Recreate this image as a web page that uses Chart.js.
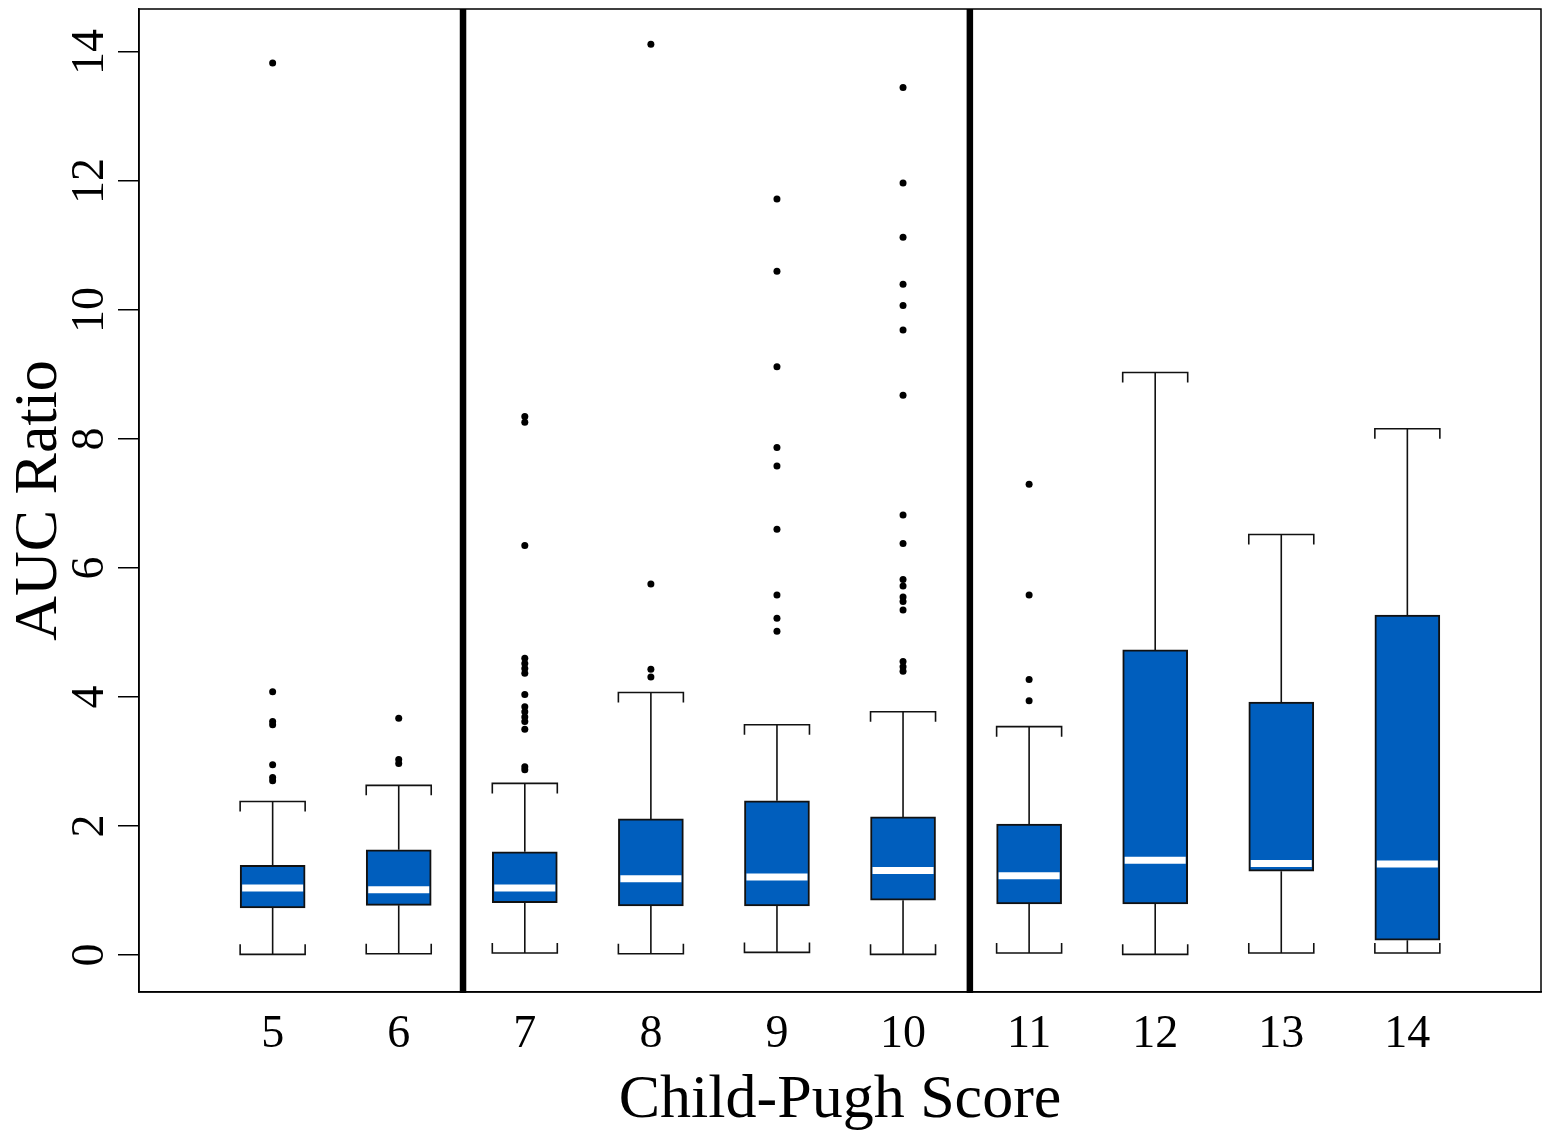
<!DOCTYPE html>
<html>
<head>
<meta charset="utf-8">
<title>AUC Ratio by Child-Pugh Score</title>
<script src="https://cdn.jsdelivr.net/npm/chart.js@4.4.1/dist/chart.umd.min.js"></script>
<style>
  html, body { margin: 0; padding: 0; background: #fff; }
  #wrap { width: 1545px; height: 1135px; }
</style>
</head>
<body>
<div id="wrap"><canvas id="boxChart" width="1545" height="1135"></canvas></div>
<script>
// data
const scores = [5, 6, 7, 8, 9, 10, 11, 12, 13, 14];
const whiskerLow  = [0.01, 0.02, 0.03, 0.02, 0.04, 0.01, 0.03, 0.01, 0.03, 0.03];
const q1          = [0.73, 0.77, 0.81, 0.76, 0.76, 0.85, 0.79, 0.79, 1.30, 0.23];
const median      = [1.04, 1.01, 1.04, 1.18, 1.21, 1.31, 1.23, 1.47, 1.42, 1.41];
const q3          = [1.39, 1.63, 1.60, 2.11, 2.39, 2.14, 2.03, 4.73, 3.92, 5.27];
const whiskerHigh = [2.38, 2.63, 2.66, 4.07, 3.57, 3.77, 3.54, 9.03, 6.52, 8.16];
const outliers = [
  [2.70, 2.75, 2.95, 3.57, 3.62, 4.08, 13.83],
  [2.97, 3.03, 3.67],
  [2.87, 2.92, 3.50, 3.62, 3.69, 3.77, 3.85, 4.04, 4.37, 4.44, 4.52, 4.60, 6.35, 8.26, 8.35],
  [4.31, 4.43, 5.75, 14.12],
  [5.02, 5.22, 5.58, 6.60, 7.58, 7.87, 9.12, 10.60, 11.72],
  [4.40, 4.47, 4.55, 5.35, 5.48, 5.55, 5.72, 5.82, 6.38, 6.82, 8.68, 9.69, 10.07, 10.40, 11.13, 11.97, 13.45],
  [3.94, 4.27, 5.58, 7.30],
  [],
  [],
  []
];
const yTicks = [0, 2, 4, 6, 8, 10, 12, 14];
const groupBreaks = [6.51, 10.53]; // vertical rules between Child-Pugh classes

const FONT = '"Liberation Serif", "DejaVu Serif", serif';
const BOX_BLUE = '#005EBD';

// whiskers, medians, class separators and frame
const boxParts = {
  id: 'boxParts',
  beforeDatasetsDraw(chart) {
    const ctx = chart.ctx;
    const y = chart.scales.y;
    const bars = chart.getDatasetMeta(0).data;
    ctx.save();
    ctx.strokeStyle = '#111';
    ctx.lineWidth = 1.6;
    bars.forEach((bar, i) => {
      const half = bar.width / 2;
      const yLo = y.getPixelForValue(whiskerLow[i]);
      const yHi = y.getPixelForValue(whiskerHigh[i]);
      const yQ1 = y.getPixelForValue(q1[i]);
      const yQ3 = y.getPixelForValue(q3[i]);
      ctx.beginPath();
      ctx.moveTo(bar.x, yQ3); ctx.lineTo(bar.x, yHi);
      ctx.moveTo(bar.x, yQ1); ctx.lineTo(bar.x, yLo);
      // caps with little end ticks
      ctx.moveTo(bar.x - half, yHi + 10); ctx.lineTo(bar.x - half, yHi);
      ctx.lineTo(bar.x + half, yHi); ctx.lineTo(bar.x + half, yHi + 10);
      ctx.moveTo(bar.x - half, yLo - 10); ctx.lineTo(bar.x - half, yLo);
      ctx.lineTo(bar.x + half, yLo); ctx.lineTo(bar.x + half, yLo - 10);
      ctx.stroke();
    });
    ctx.restore();
  },
  afterDatasetsDraw(chart) {
    const ctx = chart.ctx;
    const {x, y} = chart.scales;
    const area = chart.chartArea;
    const bars = chart.getDatasetMeta(0).data;
    ctx.save();
    // medians
    ctx.strokeStyle = '#fff';
    ctx.lineWidth = 7;
    bars.forEach((bar, i) => {
      const half = bar.width / 2 - 2;
      const ym = y.getPixelForValue(median[i]);
      ctx.beginPath();
      ctx.moveTo(bar.x - half, ym);
      ctx.lineTo(bar.x + half, ym);
      ctx.stroke();
    });
    // separators
    ctx.strokeStyle = '#000';
    ctx.lineWidth = 6.5;
    groupBreaks.forEach(v => {
      const px = x.getPixelForValue(v);
      ctx.beginPath();
      ctx.moveTo(px, area.top);
      ctx.lineTo(px, area.bottom + 1);
      ctx.stroke();
    });
    // frame
    ctx.lineWidth = 1.5;
    ctx.strokeRect(area.left, area.top, area.right - area.left, area.bottom - area.top);
    ctx.restore();
  }
};

const boxData = scores.map((s, i) => ({x: s, y: [q1[i], q3[i]]}));
const outlierData = [];
outliers.forEach((list, i) => list.forEach(v => outlierData.push({x: scores[i], y: v})));

const ctx = document.getElementById('boxChart').getContext('2d');
new Chart(ctx, {
  type: 'bar',
  data: {
    datasets: [
      {
        type: 'bar',
        label: 'IQR',
        data: boxData,
        backgroundColor: BOX_BLUE,
        borderColor: '#111',
        borderWidth: 2,
        borderSkipped: false,
        barThickness: 65
      },
      {
        type: 'scatter',
        label: 'Outliers',
        data: outlierData,
        pointRadius: 3.5,
        pointBackgroundColor: '#000',
        pointBorderWidth: 0
      }
    ]
  },
  options: {
    responsive: false,
    animation: false,
    layout: { padding: { top: 9, right: 2, left: 0, bottom: 0 } },
    plugins: {
      legend: { display: false },
      tooltip: { enabled: false }
    },
    scales: {
      x: {
        type: 'linear',
        min: 3.94,
        max: 15.06,
        offset: false,
        afterBuildTicks: (scale) => { scale.ticks = scores.map(v => ({value: v})); },
        afterFit: (scale) => { scale.height = 143; scale.paddingLeft = 0; scale.paddingRight = 0; },
        grid: { display: false, drawTicks: false, tickLength: 0 },
        border: { display: true, color: '#000', width: 1.5 },
        ticks: {
          autoSkip: false,
          maxRotation: 0,
          padding: 15,
          color: '#000',
          font: { family: FONT, size: 46 }
        },
        title: {
          display: true,
          text: 'Child-Pugh Score',
          color: '#000',
          font: { family: FONT, size: 62, lineHeight: 1.1 },
          padding: { top: 0, bottom: 0 }
        }
      },
      y: {
        type: 'linear',
        min: -0.574,
        max: 14.667,
        afterBuildTicks: (scale) => { scale.ticks = yTicks.map(v => ({value: v})); },
        afterFit: (scale) => { scale.width = 139; scale.paddingTop = 0; scale.paddingBottom = 0; },
        grid: {
          display: true,
          drawOnChartArea: false,
          drawTicks: true,
          tickLength: 21,
          color: '#000',
          lineWidth: 1.5
        },
        border: { display: true, color: '#000', width: 1.5 },
        ticks: {
          minRotation: 90,
          maxRotation: 90,
          crossAlign: 'center',
          padding: 4,
          color: '#000',
          font: { family: FONT, size: 46 }
        },
        title: {
          display: true,
          text: 'AUC Ratio',
          color: '#000',
          font: { family: FONT, size: 62, lineHeight: 1.2 },
          padding: { top: 3, bottom: 0 }
        }
      }
    }
  },
  plugins: [boxParts]
});
</script>
</body>
</html>
